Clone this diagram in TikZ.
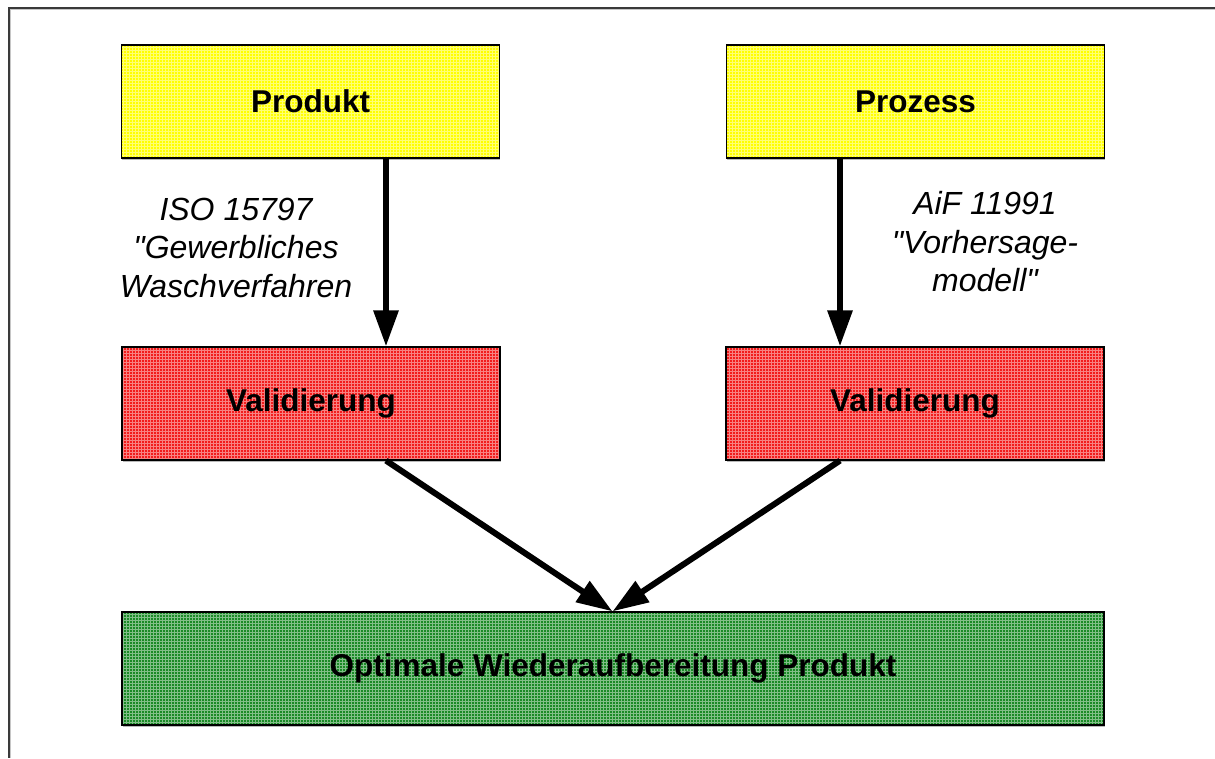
\documentclass[tikz,border=0pt]{standalone}
\usepackage{fontspec}
\setmainfont{Liberation Sans}[Ligatures=TeXOff]
\usetikzlibrary{arrows.meta,patterns,shadows}

\definecolor{frameclr}{HTML}{3A3A3A}
\definecolor{prodyellow}{HTML}{FFFF00}
\definecolor{valred}{HTML}{F21C1C}
\definecolor{optgreen}{HTML}{1A8A26}

\tikzset{
  framebar/.style={draw=frameclr, line width=2pt},
  frameshade/.style={draw=gray!45, line width=1pt},
  box/.style={draw=black, line width=1.2pt, inner sep=0pt,
    minimum width=378pt, minimum height=113pt,
    font=\fontsize{31.5}{36}\selectfont\bfseries,
    drop shadow={shadow xshift=0.8pt, shadow yshift=-1.6pt, fill=gray!55, opacity=1}},
  boxfill/.style={preaction={fill=#1},
    preaction={pattern=grid, pattern color=white!45!#1}},
  flow/.style={draw=black, line width=6pt,
    -{Triangle[length=36pt,width=24pt]}},
  note/.style={align=center, inner sep=0pt,
    font=\fontsize{32}{38.5}\selectfont\itshape}
}

\begin{document}
\begin{tikzpicture}[x=1pt, y=-1pt]
\useasboundingbox (0,0) rectangle (1215,758);

% outer frame (top and left edges)
\coordinate (fTR) at (1215,7.5);
\coordinate (fTL) at (8.5,7.5);
\coordinate (fBL) at (8.5,758);
\draw[frameshade] ([yshift=-1.8pt]fTR) -- ([xshift=1.8pt,yshift=-1.8pt]fTL) -- ([xshift=1.8pt]fBL);
\draw[framebar] (fTR) -- (fTL) -- (fBL);

% boxes
\node[box, boxfill=prodyellow] (prod) at (310.5,101.5) {Produkt};
\node[box, boxfill=prodyellow] (proz) at (915.5,101.5) {Prozess};
\node[box, boxfill=valred] (valL) at (311,403.5) {Validierung};
\node[box, boxfill=valred] (valR) at (915,403.5) {Validierung};
\node[box, boxfill=optgreen, minimum width=982pt] (opt) at (613,668.5)
  {Optimale Wiederaufbereitung Produkt};

% connector columns
\coordinate (colL) at (386,0);
\coordinate (colR) at (840,0);
\coordinate (meet) at (612.5,0);

\draw[flow] (prod.south -| colL) -- (valL.north -| colL);
\draw[flow] (proz.south -| colR) -- (valR.north -| colR);
\draw[flow] (valL.south -| colL) -- (opt.north -| meet);
\draw[flow] (valR.south -| colR) -- (opt.north -| meet);

% standards beside the vertical connectors
\node[note] (isoL) at (236,247.5) {ISO 15797\\"Gewerbliches\\Waschverfahren};
\node[note] (aifR) at (985,242) {AiF 11991\\"Vorhersage-\\modell"};
\end{tikzpicture}
\end{document}
